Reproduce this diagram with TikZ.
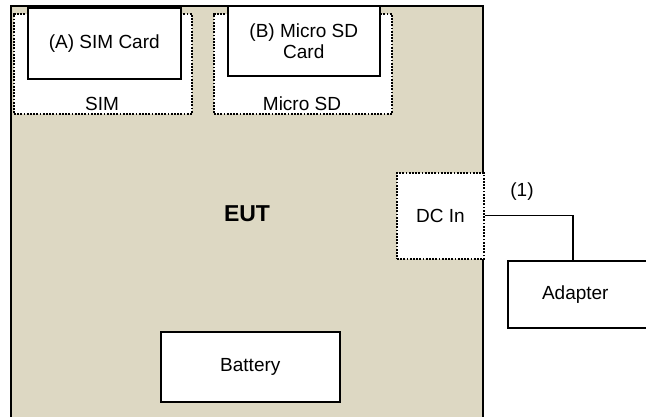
\documentclass[tikz,border=0pt]{standalone}
\usepackage{fontspec}
\setmainfont{Liberation Sans}
\usetikzlibrary{calc}
\definecolor{eutfill}{HTML}{DDD8C3}
\tikzset{
  solidbox/.style={draw=black, line width=1.6pt, fill=white, rectangle, inner sep=0pt, align=center, font=\fontsize{19}{22}\selectfont},
  dotbox/.style={draw=black, line width=1.8pt, dash pattern=on 1.8pt off 1.4pt, fill=white, rectangle, inner sep=0pt, align=center, font=\fontsize{19}{22}\selectfont},
  lbl/.style={inner sep=0pt, font=\fontsize{19}{22}\selectfont},
  wire/.style={draw=black, line width=1.2pt}
}
\begin{document}
\begin{tikzpicture}[x=1pt,y=-1pt]
\useasboundingbox (0,0) rectangle (646,417);
\clip (0,0) rectangle (646,417);
% EUT
\node[draw=black, line width=1.6pt, fill=eutfill, rectangle, inner sep=0pt, anchor=north west, minimum width=472pt, minimum height=420pt] (eut) at (10,5) {};
\node[lbl, font=\fontsize{23}{26}\selectfont\bfseries] (eutlbl) at (247,214) {EUT};
% SIM
\node[dotbox, anchor=north west, minimum width=178pt, minimum height=100pt] (simslot) at (13,13) {};
\node[solidbox, anchor=north west, minimum width=153pt, minimum height=71pt] (simcard) at (27,7) {(A) SIM Card};
\node[lbl] (simlbl) at (102,104) {SIM};
% Micro SD
\node[dotbox, anchor=north west, minimum width=178pt, minimum height=100pt] (sdslot) at (213,13) {};
\node[solidbox, anchor=north west, minimum width=152pt, minimum height=70pt, font=\fontsize{19}{21}\selectfont] (sdcard) at (227,5) {(B) Micro SD\\Card};
\node[lbl] (sdlbl) at (302,104) {Micro SD};
% DC In
\node[dotbox, anchor=north west, minimum width=87pt, minimum height=86pt] (dcin) at (396,172) {DC In};
% Battery
\node[solidbox, anchor=north west, minimum width=179pt, minimum height=70pt] (battery) at (160,331) {Battery};
% Adapter
\node[solidbox, anchor=north west, minimum width=145pt, minimum height=67pt, text width=145pt] (adapter) at (507,260) {\hspace*{-10pt}Adapter};
\coordinate (adin) at ($(adapter.north west)+(66,0)$);
\draw[wire] (dcin.east) -| (adin);
\node[lbl] (cable) at (522,192) {(1)};
\end{tikzpicture}
\end{document}
